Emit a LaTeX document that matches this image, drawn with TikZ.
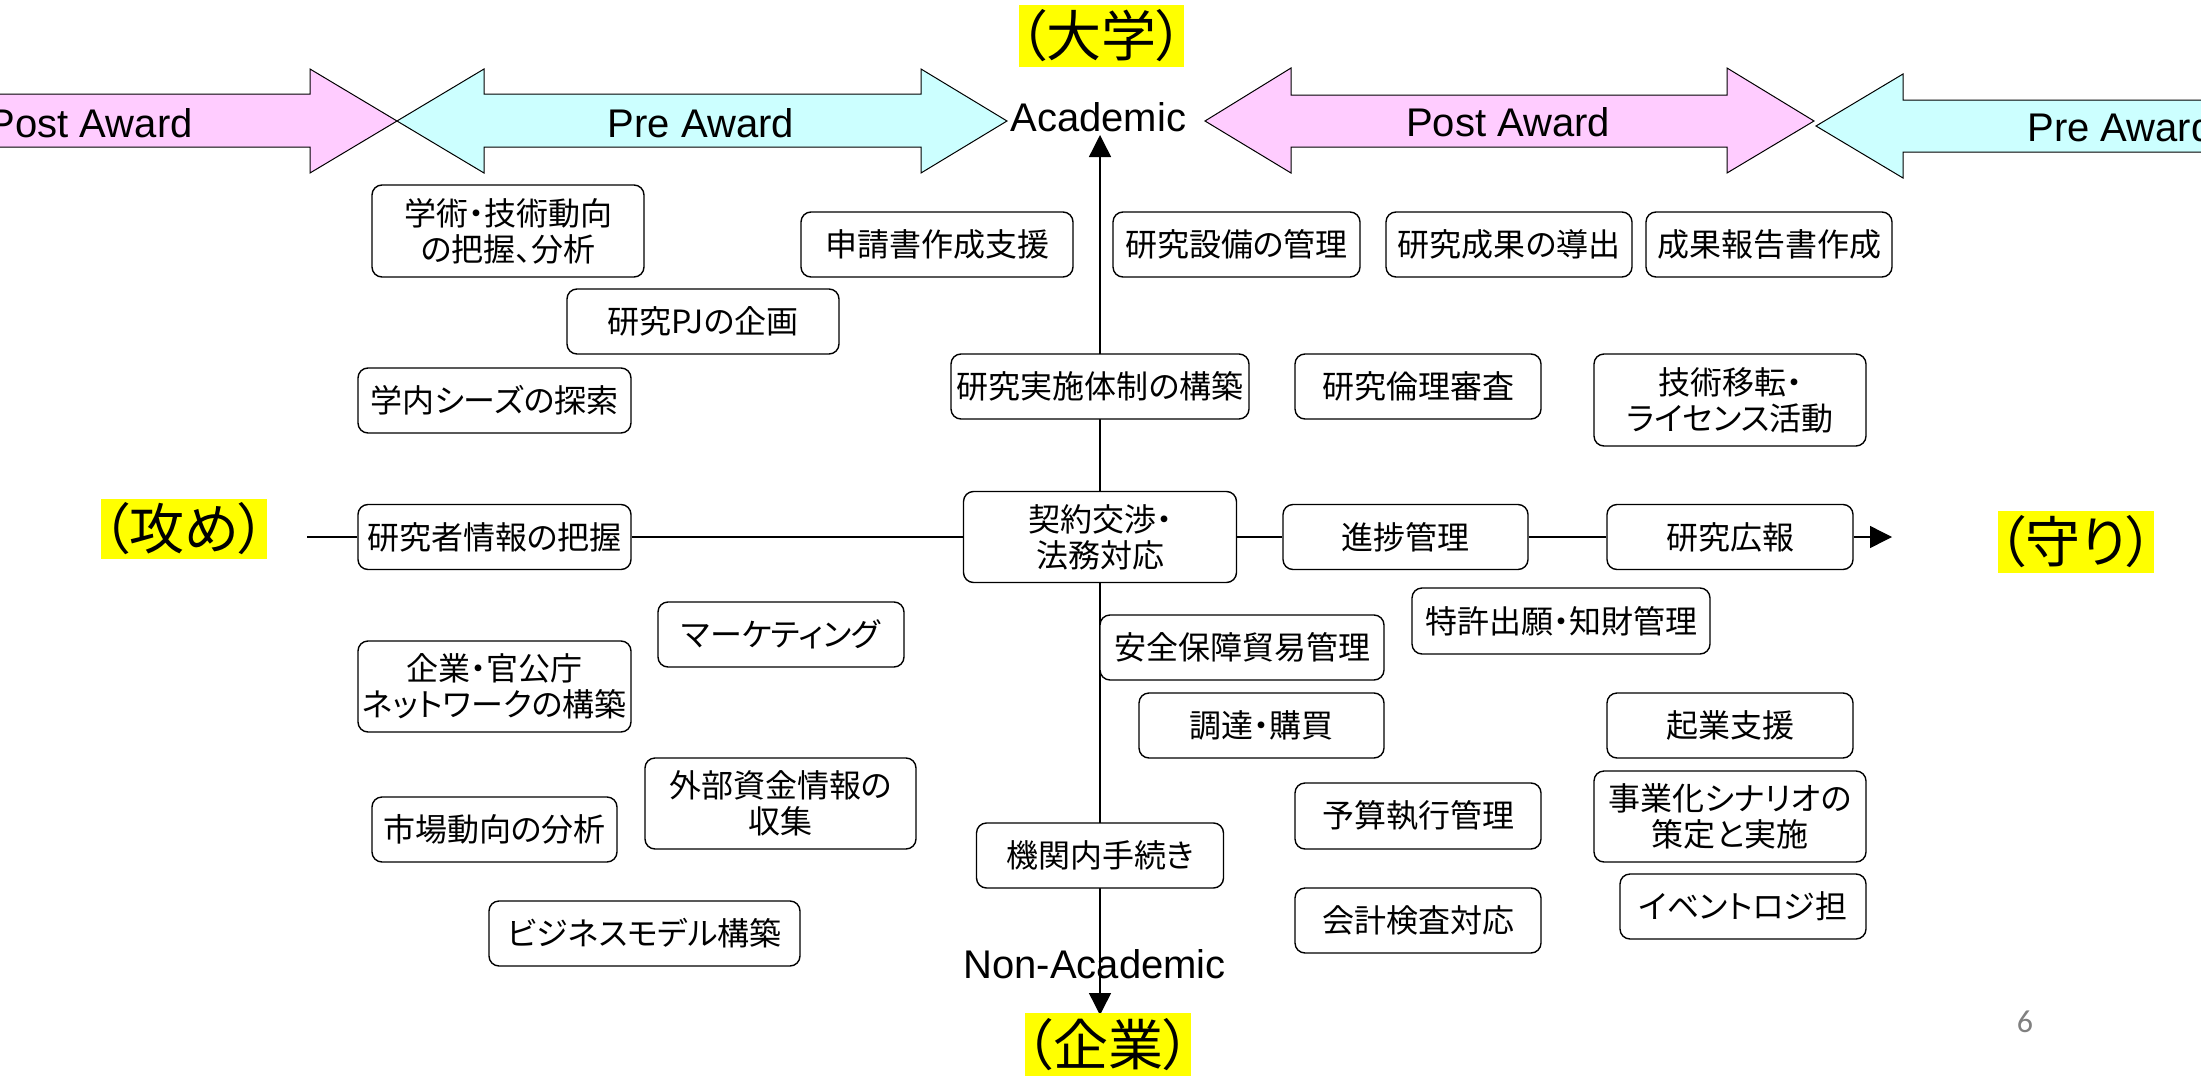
\documentclass[tikz,border=0pt]{standalone}
\usepackage{fontspec}
\setmainfont{Liberation Sans}
\newfontfamily\jp[RawFeature=+palt]{Noto Sans CJK JP}
\newfontfamily\pagefont{Carlito}
\usetikzlibrary{arrows.meta,backgrounds}
\definecolor{pinkfill}{HTML}{FFCCFF}
\definecolor{cyanfill}{HTML}{CCFFFF}
\definecolor{ylw}{HTML}{FFFF00}
\tikzset{
  bx/.style={draw, line width=0.7pt, rounded corners=5pt, fill=white, inner sep=0pt,
    align=center, font=\jp\fontsize{16pt}{18pt}\selectfont},
  ylab/.style={fill=ylw, inner sep=0pt, font=\jp\fontsize{27.5pt}{30pt}\selectfont},
  lat/.style={inner sep=0pt, font=\fontsize{20pt}{24pt}\selectfont},
  band/.style={draw, line width=0.5pt},
  axis/.style={line width=0.7pt},
  tip/.style={-{Triangle[length=11pt,width=11pt]}}
}
\begin{document}
\begin{tikzpicture}[x=0.5pt,y=-0.5pt]
\useasboundingbox (0,0) rectangle (2201,1076);
\clip (0,0) rectangle (2201,1076);

% band arrows
\draw[band, fill=pinkfill] (-20,94) -- (310,94) -- (310,69) -- (397,121) -- (310,173) -- (310,147) -- (-20,147) -- cycle;
\draw[band, fill=cyanfill] (397,121) -- (484,69) -- (484,94) -- (921,94) -- (921,69) -- (1007,121) -- (921,173) -- (921,147) -- (484,147) -- (484,173) -- cycle;
\draw[band, fill=pinkfill] (1205,121) -- (1291,68) -- (1291,95) -- (1727,95) -- (1727,68) -- (1814,121) -- (1727,173) -- (1727,147) -- (1291,147) -- (1291,173) -- cycle;
\draw[band, fill=cyanfill] (1816,126) -- (1903,74) -- (1903,100) -- (2260,100) -- (2260,152) -- (1903,152) -- (1903,178) -- cycle;

\node[lat, anchor=base east] (postL) at (193,137) {Post Award};
\node[lat, anchor=base] (preL) at (701,137) {Pre Award};
\node[lat, anchor=base] (postR) at (1508,136) {Post Award};
\node[lat, anchor=base west] (preR) at (2027,141) {Pre Award};
\node[lat, anchor=base west] (acad) at (1010,131) {Academic};
\node[lat, anchor=base west] (nonacad) at (963,978) {Non-Academic};

% yellow labels
\node[ylab, minimum width=82.5pt, minimum height=31pt] (daigaku) at (1101.5,36) {（大学）};
\node[ylab, minimum width=83pt, minimum height=30pt] (seme) at (184,529) {（攻め）};
\node[ylab, minimum width=76pt, minimum height=31pt] (mamori) at (2076,542) {（守り）};
\node[ylab, minimum width=83pt, minimum height=32pt] (kigyoL) at (1108,1045) {（企業）};

% boxes
\node[bx, minimum width=136pt, minimum height=46pt] (gakujutsu) at (508,231) {学術・技術動向\\の把握、分析};
\node[bx, minimum width=136pt, minimum height=32.5pt] (shinsei) at (937,244.5) {申請書作成支援};
\node[bx, minimum width=136pt, minimum height=32.5pt] (pj) at (703,321.5) {研究PJの企画};
\node[bx, minimum width=136.5pt, minimum height=32.5pt] (seeds) at (494.5,400.5) {学内シーズの探索};
\node[bx, minimum width=136.5pt, minimum height=32.5pt] (kenkyusha) at (494.5,537) {研究者情報の把握};
\node[bx, minimum width=149pt, minimum height=32.5pt] (taisei) at (1100,386.5) {研究実施体制の構築};
\node[bx, minimum width=136.5pt, minimum height=45.5pt] (keiyaku) at (1100,537) {契約交渉・\\法務対応};
\node[bx, minimum width=123.5pt, minimum height=32.5pt] (setsubi) at (1236.5,244.5) {研究設備の管理};
\node[bx, minimum width=123pt, minimum height=32.5pt] (seika) at (1509,244.5) {研究成果の導出};
\node[bx, minimum width=123pt, minimum height=32.5pt] (houkoku) at (1769,244.5) {成果報告書作成};
\node[bx, minimum width=123pt, minimum height=32.5pt] (rinri) at (1418,386.5) {研究倫理審査};
\node[bx, minimum width=136pt, minimum height=46pt] (iten) at (1730,400) {技術移転・\\ライセンス活動};
\node[bx, minimum width=122.5pt, minimum height=32.5pt] (shinchoku) at (1405.5,537) {進捗管理};
\node[bx, minimum width=123pt, minimum height=32.5pt] (kouhou) at (1730,537) {研究広報};
\node[bx, minimum width=123pt, minimum height=32.5pt] (marketing) at (781,634.5) {マーケティング};
\node[bx, minimum width=136.5pt, minimum height=45.5pt] (network) at (494.5,686.5) {企業・官公庁\\ネットワークの構築};
\node[bx, minimum width=135.5pt, minimum height=45.5pt] (gaibu) at (780.5,803.5) {外部資金情報の\\収集};
\node[bx, minimum width=122.5pt, minimum height=32.5pt] (shijou) at (494.5,829.5) {市場動向の分析};
\node[bx, minimum width=155.5pt, minimum height=32.5pt] (business) at (644.5,933.5) {ビジネスモデル構築};
\node[bx, minimum width=123.5pt, minimum height=32.5pt] (kikan) at (1100,855.5) {機関内手続き};
\node[bx, minimum width=142pt, minimum height=32.5pt] (anzen) at (1242,647.5) {安全保障貿易管理};
\node[bx, minimum width=149pt, minimum height=33pt] (tokkyo) at (1561,621) {特許出願・知財管理};
\node[bx, minimum width=122.5pt, minimum height=32.5pt] (chotatsu) at (1261.5,725.5) {調達・購買};
\node[bx, minimum width=123pt, minimum height=32.5pt] (kigyo) at (1730,725.5) {起業支援};
\node[bx, minimum width=123pt, minimum height=33pt] (yosan) at (1418,816) {予算執行管理};
\node[bx, minimum width=136pt, minimum height=45.5pt] (jigyoka) at (1730,816.5) {事業化シナリオの\\策定と実施};
\node[bx, minimum width=123pt, minimum height=32.5pt] (kaikei) at (1418,920.5) {会計検査対応};
\node[bx, minimum width=123pt, minimum height=32.5pt] (event) at (1743,906.5) {イベントロジ担};

\node[inner sep=0pt, text=gray, font=\pagefont\fontsize{16pt}{18pt}\selectfont] (pagenum) at (2025,1022) {6};

% axes
\coordinate (hstart) at (307,537);
\coordinate (hend) at (1892,537);
\coordinate (vtop) at (1100,135);
\coordinate (vbot) at (1100,1015);
\begin{pgfonlayer}{background}
\draw[axis] (hstart) -- (kenkyusha.west);
\draw[axis] (kenkyusha.east) -- (keiyaku.west);
\draw[axis] (keiyaku.east) -- (shinchoku.west);
\draw[axis] (shinchoku.east) -- (kouhou.west);
\draw[axis, tip] (kouhou.east) -- (hend);
\draw[axis, tip] (keiyaku.north) -- (vtop);
\draw[axis, tip] (keiyaku.south) -- (vbot);
\end{pgfonlayer}
\end{tikzpicture}
\end{document}
